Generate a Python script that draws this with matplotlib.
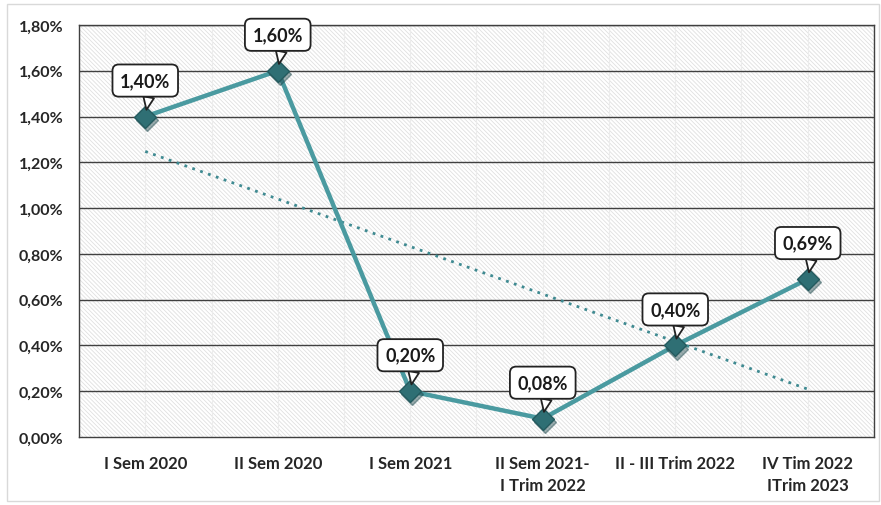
import matplotlib
matplotlib.use("Agg")
import matplotlib.pyplot as plt
import numpy as np
from matplotlib.patches import Rectangle

categories = ["I Sem 2020", "II Sem 2020", "I Sem 2021", "II Sem 2021-\nI Trim 2022",
              "II - III Trim 2022", "IV Tim 2022\nITrim 2023"]
values = [1.40, 1.60, 0.20, 0.08, 0.40, 0.69]
labels = ["1,40%", "1,60%", "0,20%", "0,08%", "0,40%", "0,69%"]
yticks = [0.0, 0.2, 0.4, 0.6, 0.8, 1.0, 1.2, 1.4, 1.6, 1.8]
ytick_labels = ["0,00%", "0,20%", "0,40%", "0,60%", "0,80%", "1,00%", "1,20%", "1,40%", "1,60%", "1,80%"]

plt.rcParams['font.family'] = ['Lato', 'DejaVu Sans']
plt.rcParams['hatch.linewidth'] = 0.6

fig = plt.figure(figsize=(8.81, 5.06), dpi=100)
fig.patches.append(Rectangle((7/881, 4/506), 872/881, 497/506, transform=fig.transFigure,
                             fill=False, ec='#d9d9d9', lw=1))
ax = fig.add_axes([79/881, 1 - 438/506, 795/881, 412/506])
x = np.arange(len(categories))
ax.set_xlim(-0.5, len(categories) - 0.5)
ax.set_ylim(0, 1.8)

ax.add_patch(Rectangle((0, 0), 1, 1, transform=ax.transAxes, fc='white', ec='#e0e0e0', lw=0,
                       hatch='\\' * 8, zorder=0))
for xv in np.arange(-0.5, len(categories), 0.5):
    ax.axvline(xv, color='#ececec', lw=0.8, zorder=0.5)
for yv in yticks[1:]:
    ax.axhline(yv, color='#404040', lw=1.0, zorder=1)

# trendline
coef = np.polyfit(x, values, 1)
ax.plot(x, np.polyval(coef, x), color='#3f8a91', lw=2, ls=(0, (1, 2)), zorder=2)

ax.plot(x, values, color='#4a9aa0', lw=3.2, zorder=3)
ax.plot(x + 0.014, np.array(values) - 0.014, 'D', ms=11, color='#1f4a4e', alpha=0.45, zorder=3.5)
ax.plot(x, values, 'D', ms=11, color='#2f6f74', mec='#245a5e', zorder=4)

for xi, v, lab in zip(x, values, labels):
    ax.annotate(lab, xy=(xi, v), xytext=(0, 36), textcoords='offset pixels',
                ha='center', va='center', fontsize=13, fontweight='bold', color='#1a1a1a',
                bbox=dict(boxstyle='round,pad=0.42,rounding_size=0.35', fc='white', ec='#222222', lw=1.3),
                arrowprops=dict(arrowstyle='wedge,tail_width=0.6,shrink_factor=0.5', fc='white',
                                ec='#222222', lw=1.3, relpos=(0.6, 0.05), shrinkA=0, shrinkB=5),
                zorder=5)

ax.set_yticks(yticks)
ax.set_yticklabels(ytick_labels, fontsize=11.5, fontweight='bold', color='#262626')
ax.set_xticks(x)
ax.set_xticklabels(categories, fontsize=12, fontweight='bold', color='#262626', linespacing=1.45)
ax.tick_params(axis='both', length=0)
ax.tick_params(axis='y', pad=11)
ax.tick_params(axis='x', pad=13)
for s in ax.spines.values():
    s.set_color('#404040')
    s.set_linewidth(1.0)

fig.savefig("out.png", dpi=100)
